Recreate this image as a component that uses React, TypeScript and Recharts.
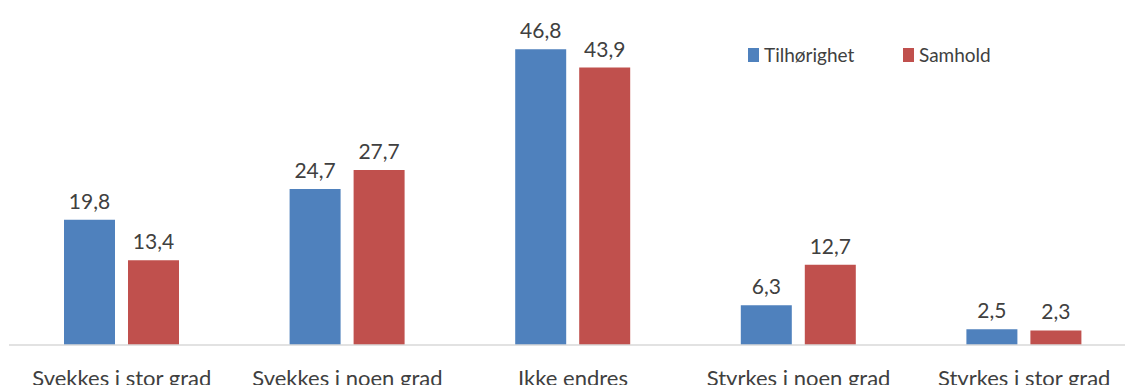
import { BarChart, Bar, XAxis, YAxis, LabelList } from "recharts";

const categories = [
  "Svekkes i stor grad",
  "Svekkes i noen grad",
  "Ikke endres",
  "Styrkes i noen grad",
  "Styrkes i stor grad",
];
const tilhorighet = [19.8, 24.7, 46.8, 6.3, 2.5];
const samhold = [13.4, 27.7, 43.9, 12.7, 2.3];

const data = categories.map((name, i) => ({
  name,
  Tilhørighet: tilhorighet[i],
  Samhold: samhold[i],
}));

const FONT = "Lato, 'Open Sans', sans-serif";
const TEXT = "#404040";

const fmt = (v: number) => v.toFixed(1).replace(".", ",");

const LegendBox = () => (
  <div
    style={{
      position: "absolute",
      left: 748,
      top: 43,
      display: "flex",
      fontFamily: FONT,
      fontSize: 19,
      color: TEXT,
      lineHeight: "24px",
    }}
  >
    <div style={{ display: "flex", alignItems: "center", width: 155 }}>
      <span style={{ width: 11, height: 14, background: "#4F81BD", marginRight: 5 }} />
      Tilhørighet
    </div>
    <div style={{ display: "flex", alignItems: "center" }}>
      <span style={{ width: 11, height: 14, background: "#C0504D", marginRight: 5 }} />
      Samhold
    </div>
  </div>
);

const App = () => {
  return (
    <div
      style={{
        position: "absolute",
        left: 0,
        top: 0,
        width: 1125,
        height: 385,
        overflow: "hidden",
        background: "#fff",
      }}
    >
      <BarChart
        width={1140}
        height={385}
        data={data}
        margin={{ top: 29, right: 3, left: 9, bottom: 0 }}
        barGap={13}
        barCategoryGap={55}
      >
        <XAxis
          dataKey="name"
          height={40}
          tickLine={false}
          axisLine={{ stroke: "#D9D9D9", strokeWidth: 1.5 }}
          tick={{ fill: TEXT, fontSize: 22, fontFamily: FONT }}
          tickMargin={19}
          interval={0}
        />
        <YAxis hide domain={[0, 50]} />
        <Bar dataKey="Tilhørighet" fill="#4F81BD" barSize={51} isAnimationActive={false}>
          <LabelList
            dataKey="Tilhørighet"
            position="top"
            offset={11}
            formatter={(v: number) => fmt(v)}
            style={{ fill: TEXT, fontSize: 21, fontFamily: FONT }}
          />
        </Bar>
        <Bar dataKey="Samhold" fill="#C0504D" barSize={51} isAnimationActive={false}>
          <LabelList
            dataKey="Samhold"
            position="top"
            offset={11}
            formatter={(v: number) => fmt(v)}
            style={{ fill: TEXT, fontSize: 21, fontFamily: FONT }}
          />
        </Bar>
      </BarChart>
      <LegendBox />
    </div>
  );
};

export default App;
